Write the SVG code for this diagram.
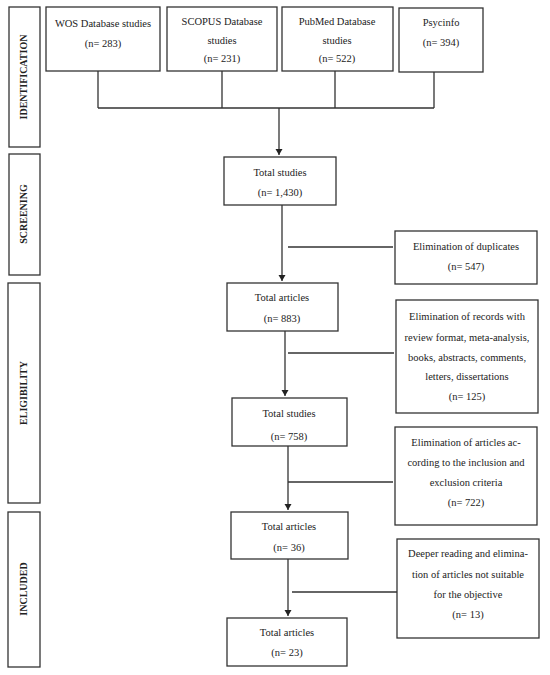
<svg xmlns="http://www.w3.org/2000/svg" width="550" height="675" viewBox="0 0 550 675">
<defs>
<marker id="ah" markerWidth="8" markerHeight="8" refX="6" refY="4" orient="auto" markerUnits="userSpaceOnUse">
<path d="M0,0.5 L6,4 L0,7.5 Z" fill="#222"/>
</marker>
<style>
rect{fill:#fff;stroke:#333;stroke-width:1.3}
text{font-family:"Liberation Serif","Times New Roman",serif;font-size:10.5px;fill:#222;text-anchor:middle}
.ph{font-weight:bold;font-size:10px}
.c{stroke:#333;stroke-width:1.3;fill:none}
</style>
</defs>
<rect width="550" height="675" style="fill:#fff;stroke:none"/>
<g id="phase-identification"><rect x="9" y="7" width="31" height="140"/><text class="ph" transform="translate(27,77) rotate(-90)">IDENTIFICATION</text></g>
<g id="phase-screening"><rect x="9" y="154" width="31" height="121"/><text class="ph" transform="translate(27,214) rotate(-90)">SCREENING</text></g>
<g id="phase-eligibility"><rect x="8" y="283" width="32" height="220"/><text class="ph" transform="translate(27,393) rotate(-90)">ELIGIBILITY</text></g>
<g id="phase-included"><rect x="8" y="512" width="32" height="155"/><text class="ph" transform="translate(27,589) rotate(-90)">INCLUDED</text></g>

<g id="wos"><rect x="46" y="7" width="114" height="64"/><text x="103" y="27">WOS Database studies</text><text x="103" y="47">(n= 283)</text></g>
<g id="scopus"><rect x="167" y="7" width="110" height="64"/><text x="222" y="25">SCOPUS Database</text><text x="222" y="44">studies</text><text x="222" y="62">(n= 231)</text></g>
<g id="pubmed"><rect x="282" y="7" width="111" height="64"/><text x="337" y="25">PubMed Database</text><text x="337" y="44">studies</text><text x="337" y="62">(n= 522)</text></g>
<g id="psycinfo"><rect x="399" y="8" width="84" height="64"/><text x="441" y="26">Psycinfo</text><text x="441" y="46">(n= 394)</text></g>

<g id="total-1430"><rect x="224" y="157" width="112" height="48"/><text x="280" y="176">Total studies</text><text x="280" y="196">(n= 1,430)</text></g>
<g id="dup"><rect x="395" y="231" width="142" height="53"/><text x="466" y="250">Elimination of duplicates</text><text x="466" y="270">(n= 547)</text></g>
<g id="total-883"><rect x="227" y="283" width="111" height="48"/><text x="282" y="301">Total articles</text><text x="282" y="322">(n= 883)</text></g>
<g id="records"><rect x="396" y="300" width="142" height="113"/><text x="467" y="320">Elimination of records with</text><text x="467" y="341">review format, meta-analysis,</text><text x="467" y="361">books, abstracts, comments,</text><text x="467" y="380">letters, dissertations</text><text x="467" y="400">(n= 125)</text></g>
<g id="total-758"><rect x="232" y="398" width="115" height="48"/><text x="289" y="417">Total studies</text><text x="289" y="440">(n= 758)</text></g>
<g id="criteria"><rect x="395" y="427" width="142" height="98"/><text x="466" y="446">Elimination of articles ac-</text><text x="466" y="466">cording to the inclusion and</text><text x="466" y="486">exclusion criteria</text><text x="466" y="506">(n= 722)</text></g>
<g id="total-36"><rect x="231" y="512" width="117" height="47"/><text x="289" y="530">Total articles</text><text x="289" y="551">(n= 36)</text></g>
<g id="deeper"><rect x="397" y="539" width="142" height="99"/><text x="468" y="557">Deeper reading and elimina-</text><text x="468" y="578">tion of articles not suitable</text><text x="468" y="598">for the objective</text><text x="468" y="618">(n= 13)</text></g>
<g id="total-23"><rect x="227" y="618" width="120" height="48"/><text x="287" y="636">Total articles</text><text x="287" y="656">(n= 23)</text></g>

<g id="connectors">
<path class="c" d="M98,71 V108 M222,71 V108 M335,71 V108 M434,72 V108 M98,108 H434"/>
<path class="c" d="M279,108 V155" marker-end="url(#ah)"/>
<path class="c" d="M282,205 V281" marker-end="url(#ah)"/>
<path class="c" d="M288,247 H393"/>
<path class="c" d="M285,331 V396" marker-end="url(#ah)"/>
<path class="c" d="M288,353 H394"/>
<path class="c" d="M288,446 V510" marker-end="url(#ah)"/>
<path class="c" d="M288,482 H393"/>
<path class="c" d="M288,559 V616" marker-end="url(#ah)"/>
<path class="c" d="M292,592 H397"/>
</g>
</svg>
